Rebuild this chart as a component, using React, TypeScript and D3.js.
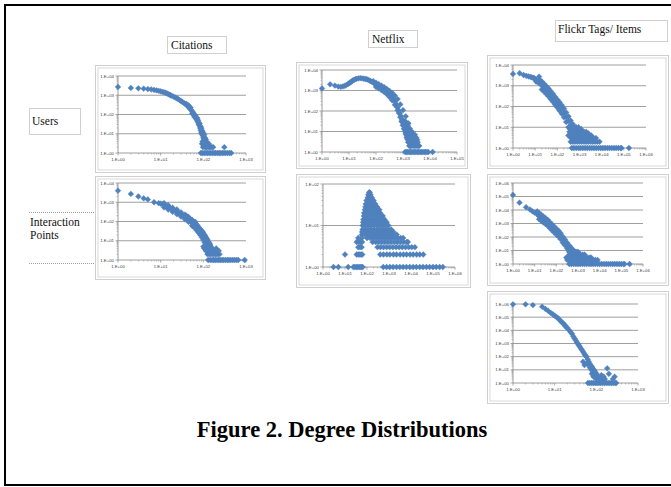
import React from 'react';
import * as d3 from 'd3';

type Pt = [number, number];
type Row = [number, number[]];

// ---------- data: [degree, count] ----------
const citationsUsers: Pt[] = [
  [1, 2700], [2, 2400], [3, 2300], [4, 2200], [5, 2100], [6, 2000], [7, 1900], [8, 1800], [9, 1700], [10, 1600],
  [11, 1500], [12, 1420], [13, 1350], [14, 1250], [15, 1150], [16, 1080], [17, 1000], [18, 950], [20, 850], [22, 760],
  [24, 700], [26, 620], [28, 560], [30, 500], [32, 460], [35, 400], [38, 350], [41, 300], [44, 260], [47, 220],
  [50, 190], [53, 160], [56, 135], [60, 100], [63, 85], [66, 70], [70, 55], [73, 45], [76, 38], [80, 28],
  [84, 20], [87, 15], [90, 12], [95, 9], [100, 6], [105, 5],
  [40, 360], [45, 300], [50, 230], [55, 110], [58, 120], [62, 75], [65, 90], [68, 60], [72, 65], [75, 50], [78, 32],
  [82, 35], [85, 25], [88, 22], [90, 18], [92, 10], [95, 14], [98, 8], [100, 11], [102, 7], [105, 9], [108, 4], [110, 6],
  [112, 3], [115, 5], [118, 4], [120, 2], [125, 3], [130, 2], [135, 3], [140, 2], [150, 2], [96, 4],
  [93, 3], [98, 2], [104, 3], [110, 2], [115, 2], [160, 2], [170, 2], [310, 2],
  [88, 1], [95, 1], [105, 1], [115, 1], [125, 1], [137, 1], [150, 1], [165, 1], [180, 1], [195, 1],
  [215, 1], [235, 1], [255, 1], [280, 1], [305, 1], [335, 1], [370, 1], [410, 1], [450, 1],
];

const citationsInteractions: Pt[] = [
  [1, 4000], [2, 2700], [3, 2000], [4, 1600], [5, 1400], [7, 1000], [9, 900],
  [10, 850], [11, 780], [12, 720], [13, 660], [14, 600], [15, 560], [16, 520], [17, 480], [18, 450], [20, 400],
  [22, 360], [24, 320], [26, 290], [28, 260], [30, 235], [33, 200], [36, 180], [39, 160], [42, 145], [45, 125],
  [48, 110], [51, 100], [54, 90], [57, 82], [60, 78], [64, 62], [68, 54], [72, 45], [76, 38], [80, 33],
  [85, 28], [90, 24], [95, 20], [100, 16], [105, 13], [110, 11], [115, 9], [120, 7], [125, 6], [130, 5],
  [135, 4], [140, 3],
  [12, 900], [15, 700], [19, 520], [24, 420], [30, 300], [37, 230], [45, 170], [55, 120], [65, 95],
  [12, 540], [15, 420], [19, 320], [24, 240], [30, 180], [37, 130], [45, 95], [55, 62], [65, 45], [75, 30],
  [40, 200], [44, 170], [48, 140], [52, 120], [56, 105], [60, 95], [65, 80], [70, 68], [75, 56], [80, 46],
  [85, 40], [90, 34], [95, 30], [100, 25], [105, 21], [110, 18], [115, 15], [120, 13], [125, 11], [130, 9],
  [135, 8], [140, 7], [145, 6], [150, 5], [155, 4], [160, 4], [170, 3], [180, 3], [190, 2], [200, 2],
  [210, 3], [220, 2], [230, 3], [240, 2], [200, 4],
  [55, 60], [62, 48], [70, 35], [78, 26], [85, 20], [92, 15], [100, 11], [108, 8], [115, 6], [122, 4],
  [130, 3], [138, 2], [145, 2], [150, 3], [160, 2], [175, 2], [125, 2], [115, 3], [105, 4], [100, 5], [110, 5],
  [130, 1], [145, 1], [160, 1], [175, 1], [190, 1], [210, 1], [230, 1], [250, 1], [275, 1], [300, 1],
  [330, 1], [365, 1], [400, 1], [440, 1], [490, 1], [540, 1], [600, 1], [660, 1], [930, 1],
];

const netflixUsers: Pt[] = [
  [1, 1260], [2, 2000], [3, 1740], [4, 1550], [5, 1510], [6, 1580], [7, 1700], [8, 1860], [9, 2040], [10, 2240],
  [11, 2450], [12, 2630], [13, 2880], [14, 3090], [15, 3240], [17, 3550], [19, 3720], [22, 3890], [26, 3980], [30, 3890],
  [35, 3800], [40, 3630], [45, 3550], [50, 3390], [56, 3090], [63, 2880], [70, 2690], [80, 2400], [90, 2140], [100, 1950],
  [115, 1820], [130, 1660], [150, 1450], [170, 1260], [195, 1120], [220, 1020], [250, 910], [285, 790], [320, 680], [360, 575],
  [400, 480], [450, 380], [500, 295], [560, 215], [620, 150], [690, 107], [760, 76], [840, 56], [920, 40], [1000, 30],
  [1100, 20], [1200, 14], [1300, 10], [1420, 6], [1550, 4], [1700, 3], [1850, 2],
  // upper edge of the band
  [79, 2820], [100, 2400], [126, 2040], [158, 1740], [200, 1450], [251, 1200], [316, 950], [398, 760], [501, 560],
  [631, 380], [794, 210], [1000, 110], [1260, 55], [1585, 25], [2000, 10],
  // lower edge of the band
  [100, 1500], [126, 1260], [158, 1050], [200, 850], [251, 660], [316, 480], [398, 330], [501, 200], [631, 110],
  [708, 80], [794, 50], [891, 32], [1000, 20], [1120, 13], [1260, 8], [1410, 5], [1585, 3],
];

const netflixUsersTailRows: Row[] = [
  [30, [900, 1000, 1120, 1260]],
  [20, [1000, 1120, 1260, 1410, 1500]],
  [14, [1100, 1260, 1410, 1580, 1780]],
  [10, [1200, 1350, 1500, 1700, 1900, 2100]],
  [7, [1300, 1450, 1650, 1850, 2100, 2400, 2750]],
  [5, [1400, 1600, 1800, 2000, 2250, 2500, 2800, 3100]],
  [4, [1500, 1700, 1900, 2150, 2400, 2700, 3000, 3350]],
  [3, [1600, 1800, 2000, 2250, 2500, 2800, 3150, 3500]],
  [2, [1700, 1900, 2150, 2400, 2700, 3000, 3350, 3700, 4000]],
  [1, [1200, 1350, 1500, 1700, 1900, 2100, 2400, 2700, 3000, 3400, 3800, 4300, 4800, 5400, 6100, 6800, 7700, 8600, 12500]],
];

const netflixInteractionRows: Row[] = [
  [63, [126, 132]],
  [55, [115, 130, 145]],
  [47, [108, 125, 145, 165]],
  [40, [95, 115, 140, 165, 200]],
  [33, [88, 105, 130, 160, 200, 240]],
  [28, [84, 100, 125, 160, 200, 250, 290]],
  [24, [80, 95, 120, 155, 200, 250, 320, 360]],
  [20, [74, 90, 115, 150, 200, 260, 330, 400]],
  [17, [72, 88, 110, 150, 200, 270, 350, 450, 520]],
  [14, [68, 85, 110, 150, 200, 270, 360, 480, 620]],
  [12, [66, 85, 110, 150, 200, 270, 370, 500, 680, 780]],
  [10, [63, 85, 115, 155, 210, 285, 380, 510, 690, 930]],
  [8, [63, 85, 115, 155, 210, 285, 380, 510, 690, 930, 1260]],
  [7, [60, 80, 110, 150, 200, 270, 360, 490, 660, 890, 1200, 1580]],
  [6, [58, 80, 110, 150, 200, 270, 360, 490, 660, 890, 1200, 1650, 2240]],
  [5, [40, 58, 100, 140, 195, 270, 370, 510, 700, 960, 1320, 1800, 2500, 3400, 4400]],
  [4, [34, 42, 50, 60, 180, 250, 340, 470, 650, 900, 1250, 1750, 2400, 3350, 4600, 6400, 7200]],
  [3, [40, 48, 57, 300, 410, 560, 780, 1080, 1500, 2100, 2900, 4000, 5600, 7800, 10800, 15000]],
  [2, [10, 34, 40, 47, 54, 61, 400, 560, 800, 1100, 1600, 2200, 3200, 4500, 6300, 9000, 12500, 18000, 25000, 36000]],
  [1, [3, 5, 14, 24, 28, 33, 38, 44, 50, 57, 63, 550, 780, 1100, 1550, 2200, 3100, 4400, 6200, 8800, 12500,
    17500, 25000, 35000, 50000, 70000, 100000, 140000, 200000, 280000]],
];

const flickrUsers: Pt[] = [
  [1, 3700], [2, 4000], [3, 3300], [4, 3000], [5, 2800], [6, 2700], [7, 2550], [8, 2450], [9, 2300], [10, 2150],
  [15, 2750], [11, 1600], [13, 1500], [16, 1260], [20, 1050], [25, 830], [32, 630], [40, 490], [50, 360], [63, 270], [79, 195],
  [100, 140], [126, 105], [158, 76], [200, 50], [251, 32], [316, 20], [398, 13], [501, 6], [631, 3],
  // upper edge of the band
  [16, 1900], [20, 1600], [25, 1260], [32, 950], [40, 740], [50, 550], [63, 410], [79, 295], [100, 215], [126, 160],
  [158, 115], [200, 80], [251, 52], [316, 33], [398, 21], [501, 14],
  // lower edge of the band
  [20, 660], [25, 525], [32, 400], [40, 310], [50, 230], [63, 170], [79, 123], [100, 89], [126, 63], [158, 45],
  [200, 30], [251, 18], [316, 10], [355, 6], [316, 4],
];

const flickrUsersTailRows: Row[] = [
  [10, [360, 450, 560, 700, 900]],
  [8, [380, 480, 600, 750, 950, 1200]],
  [6, [400, 500, 630, 800, 1000, 1260, 1600, 2000]],
  [5, [400, 500, 630, 800, 1000, 1260, 1600, 2000, 2500]],
  [4, [420, 530, 670, 850, 1070, 1350, 1700, 2150, 2700, 3400]],
  [3, [420, 530, 670, 850, 1070, 1350, 1700, 2150, 2700, 3400, 4300, 5500]],
  [2, [400, 500, 630, 800, 1000, 1260, 1600, 2000, 2500, 3200, 4000, 5000, 6300, 8000]],
  [1, [450, 560, 710, 900, 1130, 1420, 1800, 2250, 2850, 3600, 4500, 5700, 7200, 9000, 11300, 14200, 18000,
    22500, 28500, 36000, 45000, 57000, 72000, 78000, 170000]],
];

const flickrInteractions: Pt[] = [
  [1, 130000], [2, 35000], [4, 16000], [6, 11000], [8, 7900], [10, 6300], [13, 4800], [16, 3550], [20, 2700],
  [25, 2000], [32, 1500], [40, 1120], [50, 760], [63, 525], [79, 363], [100, 250], [126, 174], [158, 115],
  [200, 63], [251, 40], [316, 23], [398, 14], [501, 8], [631, 5], [794, 3],
  // upper edge of the band
  [13, 8000], [16, 5900], [20, 4500], [25, 3300], [32, 2500], [40, 1860], [50, 1260], [63, 870], [79, 600],
  [100, 415], [126, 290], [158, 190], [200, 105], [251, 66], [316, 38], [398, 23], [501, 15], [631, 10], [794, 8], [1000, 7],
  // lower edge of the band
  [16, 2100], [20, 1600], [25, 1200], [32, 900], [40, 670], [50, 460], [63, 315], [79, 220], [100, 150],
  [126, 105], [158, 69], [200, 38], [251, 24], [316, 14], [398, 8], [290, 3],
];

const flickrInteractionsTailRows: Row[] = [
  [8, [400, 500, 630, 800, 1000]],
  [5, [400, 500, 630, 800, 1000, 1260, 1600, 2000]],
  [3, [350, 440, 560, 700, 890, 1120, 1410, 1780, 2240, 2820, 3550, 4000]],
  [2, [320, 400, 500, 630, 800, 1000, 1260, 1600, 2000, 2500, 3200, 4000, 5000, 6300, 8000]],
  [1, [400, 500, 630, 800, 1000, 1260, 1600, 2000, 2500, 3200, 4000, 5000, 6300, 8000, 10000, 12600, 16000,
    20000, 25000, 32000, 40000, 50000, 63000, 80000, 100000, 126000, 140000, 240000]],
];

const flickrItems: Pt[] = [
  [1, 950000], [2, 950000], [3, 830000], [5, 630000], [6, 420000], [7, 300000],
  [8, 214000], [9, 166000], [10, 129000], [11, 105000], [12, 81000], [13, 66000], [14, 50000], [15, 40000],
  [16, 34000], [17, 27500], [18, 21400], [19, 18200], [20, 15100], [22, 10700], [24, 7400], [26, 5500],
  [28, 3470], [30, 2400], [32, 1780], [34, 1260], [36, 950], [38, 740], [40, 575], [43, 400], [46, 300],
  [49, 214], [52, 155], [55, 120], [58, 100], [62, 63], [66, 42], [70, 28], [75, 20], [80, 16], [85, 11],
  [90, 9], [95, 6], [100, 5],
  [48, 42], [52, 23], [69, 23], [76, 10], [83, 6], [91, 7], [110, 3], [132, 4], [182, 13], [200, 5],
  [250, 2], [275, 3], [70, 15], [65, 25], [58, 30], [88, 4], [95, 3], [100, 2], [105, 3], [120, 2],
  [140, 2], [160, 2], [150, 3], [78, 5], [85, 3],
  [63, 1], [70, 1], [78, 1], [86, 1], [95, 1], [105, 1], [116, 1], [128, 1], [142, 1], [157, 1],
  [173, 1], [191, 1], [211, 1], [233, 1], [258, 1], [285, 1], [300, 1],
];

const columnLabels = ['Citations', 'Netflix', 'Flickr Tags/ Items'];
const rowLabels = ['Users', 'Interaction', 'Points'];
const title = 'Figure 2. Degree Distributions';

const fromRows = (rows: Row[]): Pt[] => rows.flatMap(([c, ds]) => ds.map((d) => [d, c] as Pt));

// ---------- layout ----------
interface PanelSpec {
  data: Pt[];
  box: [number, number, number, number];
  xr: [number, number];
  yr: [number, number];
  xExp: number;
  yExp: number;
}

const panels: PanelSpec[] = [
  { data: citationsUsers, box: [95, 65, 265, 172], xr: [118, 246], yr: [153, 76], xExp: 3, yExp: 4 },
  { data: citationsInteractions, box: [95, 176, 265, 279], xr: [118, 246], yr: [260, 183], xExp: 3, yExp: 4 },
  { data: [...netflixUsers, ...fromRows(netflixUsersTailRows)], box: [296, 62, 467, 168], xr: [322, 457], yr: [152, 70], xExp: 5, yExp: 4 },
  { data: fromRows(netflixInteractionRows), box: [296, 174, 470, 287], xr: [323, 455], yr: [267, 184], xExp: 6, yExp: 2 },
  { data: [...flickrUsers, ...fromRows(flickrUsersTailRows)], box: [487, 55, 668, 168], xr: [513, 646], yr: [148, 65], xExp: 6, yExp: 4 },
  { data: [...flickrInteractions, ...fromRows(flickrInteractionsTailRows)], box: [487, 174, 668, 285], xr: [513, 643], yr: [264, 183], xExp: 6, yExp: 6 },
  { data: flickrItems, box: [487, 291, 668, 403], xr: [513, 638], yr: [383, 304], xExp: 3, yExp: 6 },
];

const BLUE = '#4F81BD';
const DOT = '#a0a0a0';
const fmt = (e: number) => `1.E+${String(e).padStart(2, '0')}`;
const diamond = (r: number) => `M0,${-r}L${r},0L0,${r}L${-r},0Z`;

function Panel({ p }: { p: PanelSpec }) {
  const x = d3.scaleLog().domain([1, Math.pow(10, p.xExp)]).range(p.xr);
  const y = d3.scaleLog().domain([1, Math.pow(10, p.yExp)]).range(p.yr);
  const [bx0, by0, bx1, by1] = p.box;
  const xMaj = d3.range(0, p.xExp + 1).map((e) => Math.pow(10, e));
  const yMaj = d3.range(0, p.yExp + 1).map((e) => Math.pow(10, e));
  const xMin: number[] = [];
  for (let e = 0; e < p.xExp; e++) for (let k = 2; k < 10; k++) xMin.push(k * Math.pow(10, e));
  const yMin: number[] = [];
  for (let e = 0; e < p.yExp; e++) for (let k = 2; k < 10; k++) yMin.push(k * Math.pow(10, e));
  const x0 = p.xr[0];
  const x1 = p.xr[1];
  const yb = p.yr[0];
  const yt = p.yr[1];
  const d = diamond(2.9);
  return (
    <g>
      <rect x={bx0 + 0.5} y={by0 + 0.5} width={bx1 - bx0} height={by1 - by0} fill="#fff" stroke={DOT} strokeWidth={1} strokeDasharray="1 1" />
      <rect x={bx0 + 3} y={by0 + 3} width={bx1 - bx0 - 5} height={by1 - by0 - 5} fill="#fff" stroke="#cfcfcf" strokeWidth={0.8} />
      {yMaj.map((v, i) => (
        <line key={'g' + i} x1={x0} x2={x1} y1={y(v)} y2={y(v)} stroke="#878787" strokeWidth={0.8} />
      ))}
      <line x1={x0} x2={x0} y1={yt} y2={yb} stroke="#878787" strokeWidth={0.8} />
      {xMin.map((v, i) => (
        <line key={'xm' + i} x1={x(v)} x2={x(v)} y1={yb} y2={yb + 1.5} stroke="#878787" strokeWidth={0.5} />
      ))}
      {xMaj.map((v, i) => (
        <line key={'xM' + i} x1={x(v)} x2={x(v)} y1={yb} y2={yb + 2.5} stroke="#878787" strokeWidth={0.7} />
      ))}
      {yMin.map((v, i) => (
        <line key={'ym' + i} x1={x0 - 1.5} x2={x0} y1={y(v)} y2={y(v)} stroke="#878787" strokeWidth={0.5} />
      ))}
      {yMaj.map((v, i) => (
        <line key={'yM' + i} x1={x0 - 2.5} x2={x0} y1={y(v)} y2={y(v)} stroke="#878787" strokeWidth={0.7} />
      ))}
      {yMaj.map((v, i) => (
        <text key={'yl' + i} x={x0 - 4} y={y(v) + 1.5} fontSize={4.3} textAnchor="end" fill="#404040" fontFamily="Liberation Sans, Arial">
          {fmt(i)}
        </text>
      ))}
      {xMaj.map((v, i) => (
        <text key={'xl' + i} x={x(v)} y={yb + 8} fontSize={4.3} textAnchor="middle" fill="#404040" fontFamily="Liberation Sans, Arial">
          {fmt(i)}
        </text>
      ))}
      {p.data.map(([dx, dy], i) => (
        <path key={'p' + i} d={d} transform={`translate(${x(dx)},${y(dy)})`} fill={BLUE} stroke={BLUE} strokeWidth={0.4} strokeLinejoin="round" />
      ))}
    </g>
  );
}

const serif = 'Liberation Serif, Times New Roman, serif';

function LabelText({ x, y, children }: { x: number; y: number; children: string }) {
  return (
    <text x={x} y={y} fontSize={11.5} fontFamily={serif} fill="#111">
      {children}
    </text>
  );
}

function DotRect({ x0, y0, x1, y1 }: { x0: number; y0: number; x1: number; y1: number }) {
  return <rect x={x0 + 0.5} y={y0 + 0.5} width={x1 - x0} height={y1 - y0} fill="#fff" stroke={DOT} strokeWidth={1} strokeDasharray="1 1" />;
}

export default function App() {
  return (
    <svg width={671} height={487} style={{ position: 'absolute', left: 0, top: 0, background: '#fff' }}>
      <rect x={0} y={0} width={671} height={487} fill="#fff" />
      <rect x={5} y={5} width={700} height={480} fill="none" stroke="#000" strokeWidth={2} />
      {panels.map((p, i) => (
        <Panel key={i} p={p} />
      ))}
      <DotRect x0={167} y0={36} x1={226} y1={53} />
      <LabelText x={171} y={49}>{columnLabels[0]}</LabelText>
      <DotRect x0={368} y0={30} x1={417} y1={47} />
      <LabelText x={372} y={43}>{columnLabels[1]}</LabelText>
      <DotRect x0={555} y0={20} x1={667} y1={41} />
      <LabelText x={558} y={33}>{columnLabels[2]}</LabelText>
      <DotRect x0={29} y0={108} x1={80} y1={134} />
      <LabelText x={32} y={125}>{rowLabels[0]}</LabelText>
      <line x1={29} x2={95} y1={212.5} y2={212.5} stroke={DOT} strokeDasharray="1 1" />
      <line x1={29} x2={95} y1={263.5} y2={263.5} stroke={DOT} strokeDasharray="1 1" />
      <LabelText x={30} y={226}>{rowLabels[1]}</LabelText>
      <LabelText x={30} y={239}>{rowLabels[2]}</LabelText>
      <text x={342} y={437} fontSize={22.5} fontWeight="bold" textAnchor="middle" fontFamily={serif} fill="#000">
        {title}
      </text>
    </svg>
  );
}
